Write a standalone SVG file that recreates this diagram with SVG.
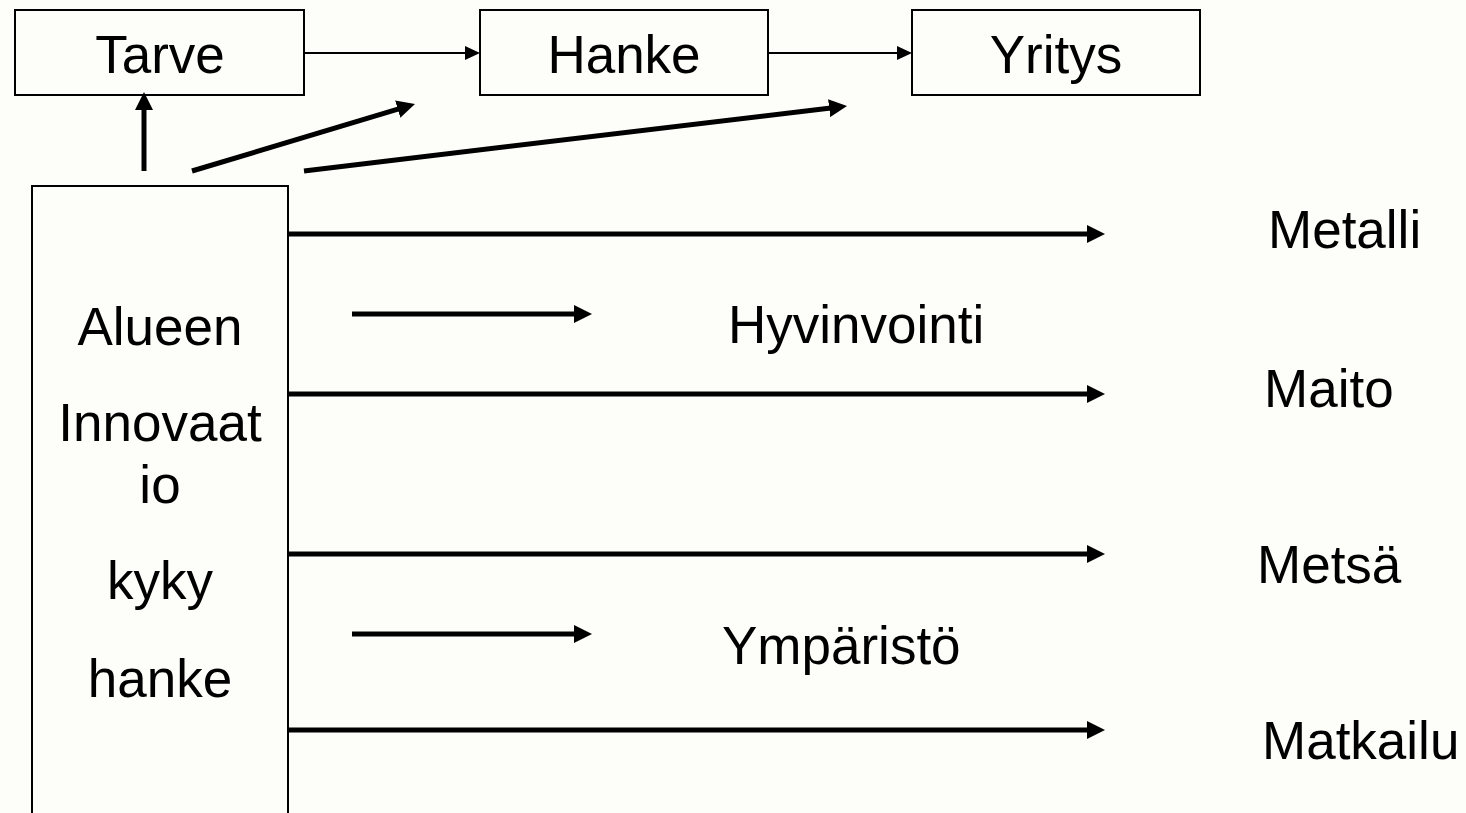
<svg xmlns="http://www.w3.org/2000/svg" width="1466" height="813" viewBox="0 0 1466 813">
<style>
.box{fill:none;stroke:#000;stroke-width:2}
.t{font-family:"Liberation Sans",Arial,sans-serif;font-size:53px;fill:#000}
.c{text-anchor:middle}
.thin{stroke:#000;stroke-width:2;fill:none;marker-end:url(#hs)}
.thick{stroke:#000;stroke-width:5;fill:none;marker-end:url(#hl)}
</style>
<defs>
<marker id="hs" markerUnits="userSpaceOnUse" markerWidth="15" markerHeight="14" refX="13" refY="7" orient="auto"><path d="M0,0 L15,7 L0,14 z" fill="#000"/></marker>
<marker id="hl" markerUnits="userSpaceOnUse" markerWidth="18" markerHeight="18" refX="8" refY="9" orient="auto"><path d="M0,0 L18,9 L0,18 z" fill="#000"/></marker>
</defs>
<rect width="1466" height="813" fill="#FDFDF9"/>
<g id="tarve"><rect class="box" x="15" y="10" width="289" height="85"/><text class="t c" x="160" y="73">Tarve</text></g>
<g id="hanke"><rect class="box" x="480" y="10" width="288" height="85"/><text class="t c" x="624" y="73">Hanke</text></g>
<g id="yritys"><rect class="box" x="912" y="10" width="288" height="85"/><text class="t c" x="1056" y="73">Yritys</text></g>
<g id="alue"><path class="box" d="M32,813 L32,186 L288,186 L288,813"/>
<text class="t c" x="160" y="345">Alueen</text>
<text class="t c" x="160" y="441">Innovaat</text>
<text class="t c" x="160" y="503">io</text>
<text class="t c" x="160" y="599">kyky</text>
<text class="t c" x="160" y="697">hanke</text></g>
<g id="metalli"><text class="t" x="1268" y="248">Metalli</text></g>
<g id="hyvinvointi"><text class="t" x="728" y="343">Hyvinvointi</text></g>
<g id="maito"><text class="t" x="1264" y="407">Maito</text></g>
<g id="metsa"><text class="t" x="1257" y="583">Metsä</text></g>
<g id="ymparisto"><text class="t" x="722" y="664">Ympäristö</text></g>
<g id="matkailu"><text class="t" x="1262" y="759">Matkailu</text></g>
<g id="connectors">
<line class="thin" x1="304" y1="53" x2="478" y2="53"/>
<line class="thin" x1="768" y1="53" x2="910" y2="53"/>
<line class="thick" x1="144" y1="171" x2="144" y2="102"/>
<line class="thick" x1="192" y1="171" x2="405.4" y2="106.9"/>
<line class="thick" x1="304" y1="171" x2="837.1" y2="107.2"/>
<line class="thick" x1="288" y1="234" x2="1095" y2="234"/>
<line class="thick" x1="352" y1="314" x2="582" y2="314"/>
<line class="thick" x1="288" y1="394" x2="1095" y2="394"/>
<line class="thick" x1="288" y1="554" x2="1095" y2="554"/>
<line class="thick" x1="352" y1="634" x2="582" y2="634"/>
<line class="thick" x1="288" y1="730" x2="1095" y2="730"/>
</g>
</svg>
